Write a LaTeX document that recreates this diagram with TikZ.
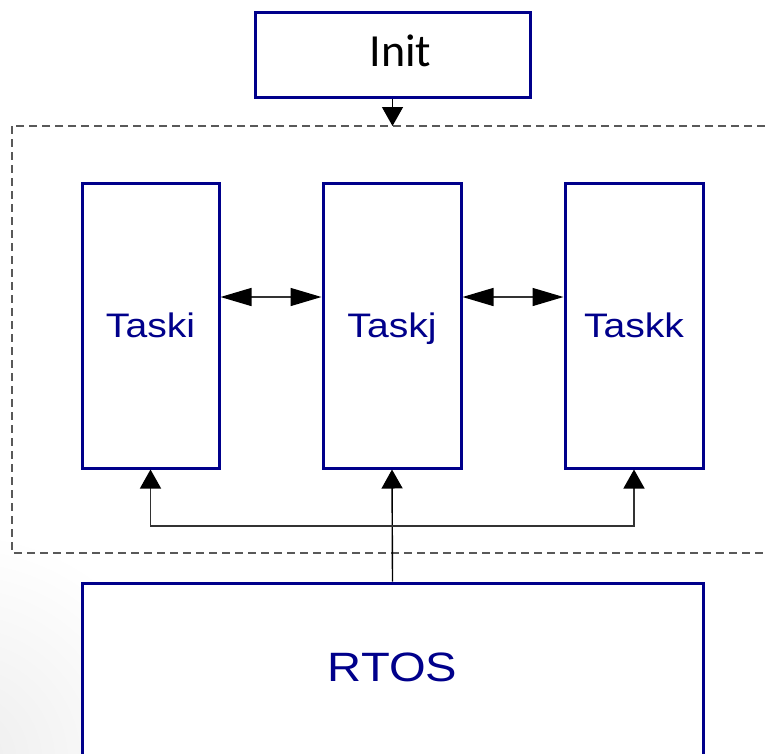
\documentclass[tikz,border=0pt]{standalone}
\usepackage{fontspec}
\setmainfont{Liberation Sans}[FakeStretch=1.15]
\newfontfamily\initfont{Carlito}
\usetikzlibrary{arrows.meta}
\definecolor{boxblue}{RGB}{0,0,139}
\definecolor{linegray}{RGB}{50,50,50}

\begin{document}
\begin{tikzpicture}[x = 1pt, y = -1pt,
  taskbox/.style = {draw = boxblue, line width = 3pt, fill = white, text = boxblue, inner sep = 0pt,
    font = \fontsize{34}{40}\selectfont, text height = 24.5pt, text depth = 0pt},
  uptip/.style = {-{Triangle[length = 19pt, width = 21pt, color = black]}},
  sidetip/.style = {{Triangle[length = 31pt, width = 18pt, color = black]}-{Triangle[length = 31pt, width = 18pt, color = black]}},
  link/.style = {color = linegray, line width = 1.4pt}]
\useasboundingbox (0, 0) rectangle (765, 753);
\clip (0, 0) rectangle (765, 753);
\shade[inner color = black!7, outer color = white, draw = none] (-40, 760) circle [radius = 230];
\draw[color = black!65, line width = 1.2pt, dash pattern = on 8pt off 5pt] (12, 126) rectangle (800, 553);
\node (init) [taskbox, text = black, font = \initfont\fontsize{46}{52}\selectfont, text height = 29.6pt, text depth = 5pt, minimum width = 275pt, minimum height = 85pt] at (392.5, 54.5) {\hspace*{16pt}Init};
\node (taski) [taskbox, minimum width = 137pt, minimum height = 285pt] at (150.5, 325.5) {Taski};
\node (taskj) [taskbox, minimum width = 138pt, minimum height = 285pt] at (392, 325.5) {Taskj};
\node (taskk) [taskbox, minimum width = 138pt, minimum height = 285pt] at (634, 325.5) {Taskk};
\node (rtos) [taskbox, minimum width = 621pt, minimum height = 250pt] at (392.5, 708) {};
\node (rtoslabel) [text = boxblue, inner sep = 0pt, font = \fontsize{41}{48}\selectfont, text height = 29.4pt, text depth = 0pt] at (392.5, 667) {RTOS};
\coordinate (frametop) at (init.south |- 0, 126);
\coordinate (row) at (0, 297);
\coordinate (fork) at (taskj.south |- 0, 526);
\draw[link, uptip, color = black] (init.south) -- (frametop);
\draw[link, sidetip] (taski.east |- row) -- (taskj.west |- row);
\draw[link, sidetip] (taskj.east |- row) -- (taskk.west |- row);
\draw[link, uptip, color = black] (rtos.north) -- (taskj.south);
\draw[link, uptip] (fork) -| (taski.south);
\draw[link, uptip] (fork) -| (taskk.south);
\end{tikzpicture}
\end{document}
